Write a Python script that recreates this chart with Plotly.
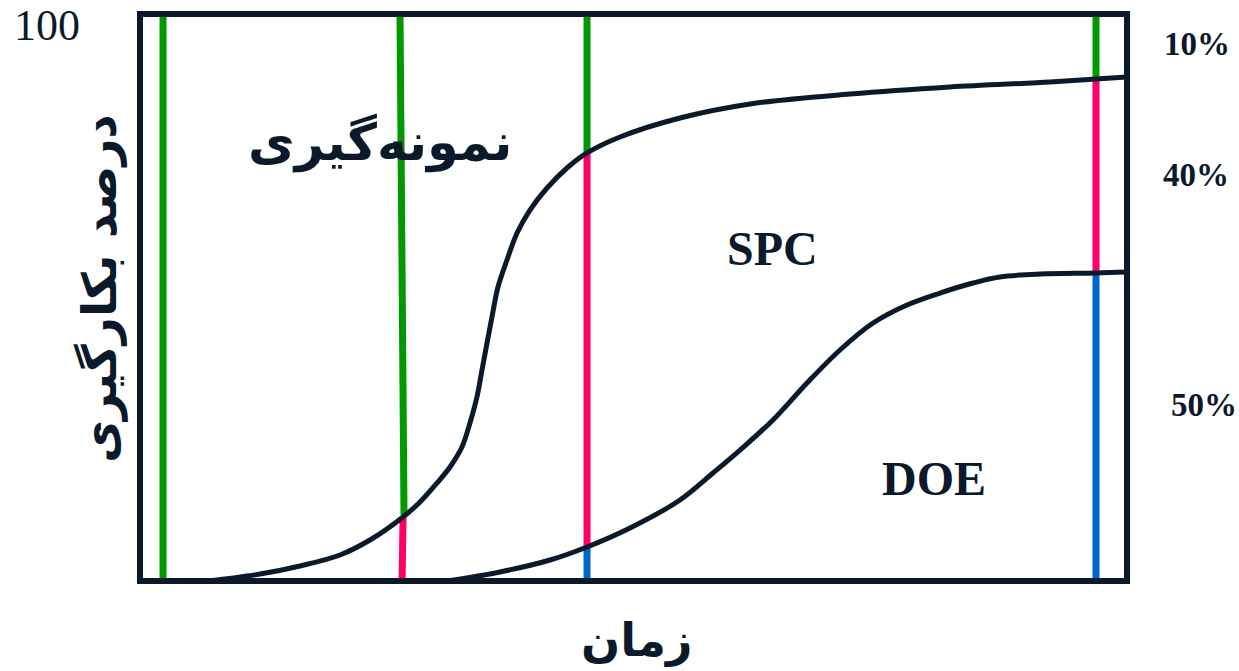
import plotly.graph_objects as go

# ---- data (0-100 scale, time on x, usage % on y) ----
sampling_x = [6.79, 12.16, 16.21, 20.26, 23.30, 26.65, 28.37, 30.09, 31.41, 32.62, 33.43, 34.14,
              34.65, 35.16, 35.66, 36.27, 37.18, 38.20, 39.51, 41.24, 43.26, 45.29, 48.63,
              54.71, 61.80, 71.94, 82.07, 92.20, 96.86, 100]
sampling_y = [0, 1.23, 2.65, 4.59, 7.23, 11.29, 13.93, 17.28, 20.11, 23.63, 27.87, 32.45,
              37.21, 41.98, 46.56, 51.85, 56.61, 61.38, 65.43, 69.31, 72.84, 75.49, 78.31,
              81.66, 84.13, 85.89, 87.13, 88.01, 88.54, 88.89]

doe_x = [31.10, 36.47, 41.54, 45.29, 49.65, 54.71, 58.05, 60.79, 64.13, 67.58, 70.92, 74.27,
         77.71, 81.05, 84.40, 87.13, 91.19, 96.86, 100]
doe_y = [0, 1.59, 3.70, 6.00, 9.35, 14.29, 19.05, 23.10, 28.40, 34.92, 40.74, 45.50,
         48.68, 50.79, 52.56, 53.62, 54.14, 54.32, 54.50]

# vertical stage markers: (x_top, x_bottom, y_top, y_bottom, colour)
seg_x0 = [2.33, 26.34, 26.65, 45.29, 45.29, 45.29, 96.86, 96.86, 96.86]
seg_x1 = [2.33, 26.75, 26.55, 45.29, 45.29, 45.29, 96.86, 96.86, 96.86]
seg_y0 = [100.4, 100.4, 11.1, 100.4, 75.49, 6.0, 100.4, 88.54, 54.32]
seg_y1 = [-0.3, 11.64, -0.3, 75.49, 6.0, -0.3, 88.54, 54.32, -0.3]
seg_col = ["green", "green", "pink", "green", "pink", "blue", "green", "pink", "blue"]

region_labels = ["نمونه‌گیری", "SPC", "DOE"]
pct_labels = ["10%", "40%", "50%"]
y_title = "درصد بکارگیری"
x_title = "زمان"
top_tick = "100"

palette = {"green": "#009900", "pink": "#ff0066", "blue": "#0066cc"}
ink = "#0b1a2b"

fig = go.Figure()

for x0, x1, y0, y1, c in zip(seg_x0, seg_x1, seg_y0, seg_y1, seg_col):
    fig.add_trace(go.Scatter(x=[x0, x1], y=[y0, y1], mode="lines",
                             line=dict(color=palette[c], width=7),
                             hoverinfo="skip", showlegend=False))

fig.add_trace(go.Scatter(x=sampling_x, y=sampling_y, mode="lines",
                         line=dict(color=ink, width=5, shape="spline", smoothing=1.0),
                         showlegend=False))
fig.add_trace(go.Scatter(x=doe_x, y=doe_y, mode="lines",
                         line=dict(color=ink, width=5, shape="spline", smoothing=1.0),
                         showlegend=False))

fig.add_shape(type="rect", xref="paper", yref="paper", x0=0, x1=1, y0=0, y1=1,
              line=dict(color=ink, width=6), layer="above")

W, H = 1239, 671
L, R, T, B = 140, 1127, 14, 581


def px(xp):
    return (xp - L) / (R - L)


def py(yp):
    return (B - yp) / (B - T)


arab = "DejaVu Sans"
serif = "Liberation Serif"
ann = []
ann.append(dict(text="<b>" + region_labels[0] + "</b>", x=px(380), y=py(143),
                font=dict(family=arab, size=51, color=ink)))
ann.append(dict(text="<b>" + region_labels[1] + "</b>", x=px(772), y=py(248),
                font=dict(family=serif, size=48, color=ink)))
ann.append(dict(text="<b>" + region_labels[2] + "</b>", x=px(934), y=py(478),
                font=dict(family=serif, size=48, color=ink)))
for t, (xx, yy) in zip(pct_labels, [(1197, 44), (1196, 175), (1204, 405)]):
    ann.append(dict(text="<b>" + t + "</b>", x=px(xx), y=py(yy),
                    font=dict(family=serif, size=33, color=ink)))
ann.append(dict(text=top_tick, x=px(47), y=py(25),
                font=dict(family=serif, size=44, color=ink)))
ann.append(dict(text="<b>" + x_title + "</b>", x=px(637), y=py(640),
                font=dict(family=arab, size=46, color=ink)))
ann.append(dict(text="<b>" + y_title + "</b>", x=px(100), y=py(289), textangle=-90,
                font=dict(family=arab, size=47, color=ink)))
for a in ann:
    a.update(xref="paper", yref="paper", showarrow=False, xanchor="center", yanchor="middle")

fig.update_layout(
    width=W, height=H,
    margin=dict(l=L, r=W - R, t=T, b=H - B),
    paper_bgcolor="white", plot_bgcolor="white",
    annotations=ann,
    xaxis=dict(range=[0, 100], visible=False, fixedrange=True),
    yaxis=dict(range=[0, 100], visible=False, fixedrange=True),
)

# remove the default page margin so the figure fills the 1239x671 window exactly
fig.write_html("out.html",
               config={"displayModeBar": False},
               post_script="document.body.style.margin='0';document.body.style.overflow='hidden';")
